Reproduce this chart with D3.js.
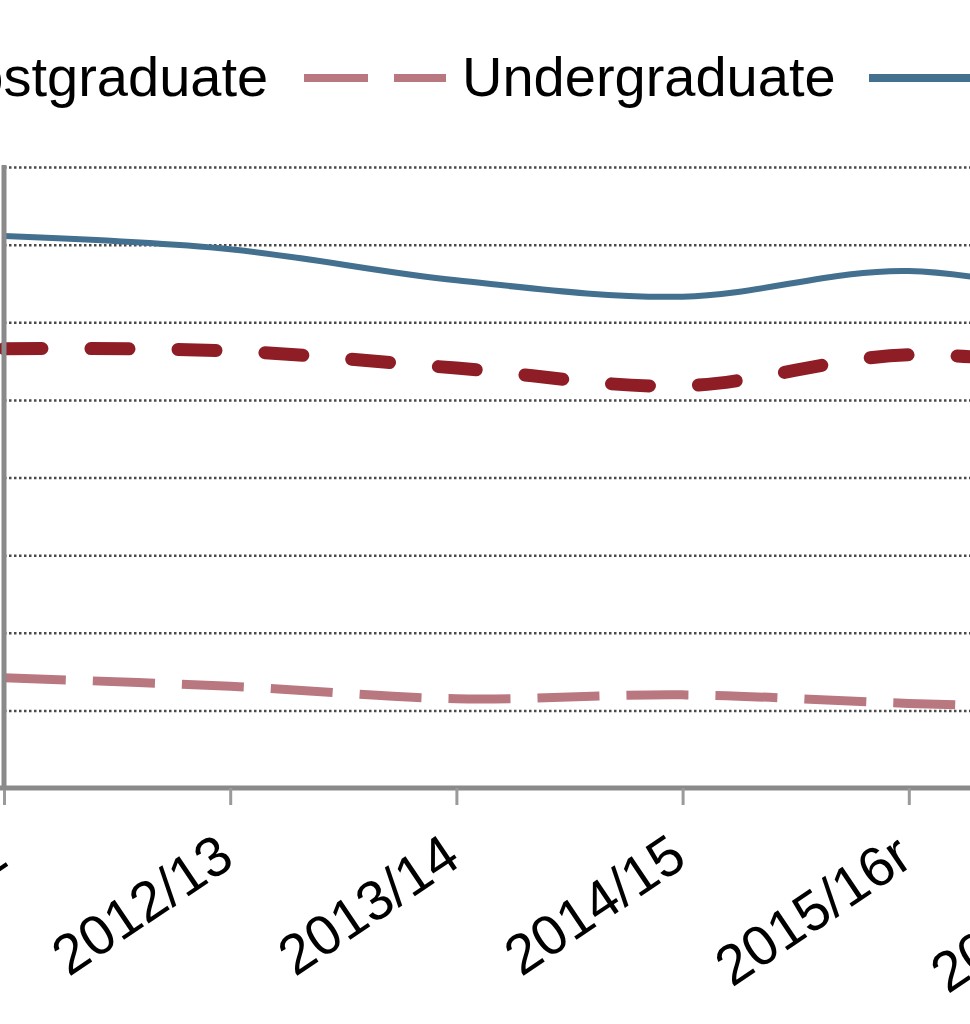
<!DOCTYPE html>
<html>
<head>
<meta charset="utf-8">
<script src="https://cdn.jsdelivr.net/npm/d3@7"></script>
<style>
  body { margin: 0; background: #fff; overflow: hidden; }
  svg { display: block; font-family: "Liberation Sans", Arial, sans-serif; }
  .grid line { stroke: #4a4a4a; stroke-width: 2.5; stroke-dasharray: 2.5,2.5; }
  .grid path { display: none; }
</style>
</head>
<body>
<svg width="970" height="1024"></svg>
<script>
// **** data ****
var years = ["2011/12", "2012/13", "2013/14", "2014/15", "2015/16r", "2016/17p"];
var allStudents   = [71.1, 69.4, 65.4, 63.3, 66.6, 62.0];
var postgraduate  = [56.6, 56.3, 54.1, 51.8, 55.8, 53.2];
var undergraduate = [14.2, 13.1, 11.5, 12.0, 10.9, 10.2];
var yTicks = [0, 10, 20, 30, 40, 50, 60, 70, 80];

var svg = d3.select("svg");
svg.append("rect").attr("width", 970).attr("height", 1024).attr("fill", "#fff");

// **** scales ****
var xScale = d3.scalePoint().domain(years).range([4, 1135]);
var yScale = d3.scaleLinear().domain([0, 80]).range([788, 167]);

// gridlines
svg.append("g").attr("class", "grid")
    .attr("transform", "translate(4,0)")
    .call(d3.axisRight(yScale).tickValues(yTicks.slice(1)).tickSize(1000).tickFormat(""));

// **** lines ****
var line = d3.line()
    .x(function(d, i) { return xScale(years[i]); })
    .y(function(d) { return yScale(d); })
    .curve(d3.curveCatmullRom.alpha(0.5));

svg.append("path").datum(undergraduate)
    .attr("d", line)
    .attr("fill", "none")
    .attr("stroke", "#b97880")
    .attr("stroke-width", 9)
    .attr("stroke-dasharray", "62,27");

svg.append("path").datum(postgraduate)
    .attr("d", line)
    .attr("fill", "none")
    .attr("stroke", "#8e1d25")
    .attr("stroke-width", 13)
    .attr("stroke-linecap", "round")
    .attr("stroke-dasharray", "38,49");

svg.append("path").datum(allStudents)
    .attr("d", line)
    .attr("fill", "none")
    .attr("stroke", "#44708f")
    .attr("stroke-width", 6);

// **** axes ****
var xAxis = svg.append("g")
    .attr("transform", "translate(0,788)")
    .call(d3.axisBottom(xScale).tickSize(17).tickSizeOuter(0));
xAxis.select(".domain").attr("stroke", "#8a8a8a").attr("stroke-width", 5)
    .attr("d", "M-10,0H1200");
xAxis.selectAll(".tick line").attr("stroke", "#9a9a9a").attr("stroke-width", 3);
xAxis.selectAll(".tick text")
    .attr("font-size", 56)
    .attr("font-family", "Liberation Sans, Arial, sans-serif")
    .attr("fill", "#000")
    .attr("text-anchor", "end")
    .attr("dy", 0)
    .attr("y", 0)
    .attr("transform", "translate(6,76) rotate(-34)");

svg.append("line")
    .attr("x1", 4).attr("x2", 4)
    .attr("y1", 165).attr("y2", 790)
    .attr("stroke", "#8a8a8a").attr("stroke-width", 5);

// **** legend ****
var legend = svg.append("g").attr("font-size", 56).attr("fill", "#000");
legend.append("line").attr("x1", -190).attr("x2", -90).attr("y1", 78).attr("y2", 78)
    .attr("stroke", "#8e1d25").attr("stroke-width", 9).attr("stroke-dasharray", "40,30");
legend.append("text").attr("x", -65).attr("y", 96).text("Postgraduate");
legend.append("line").attr("x1", 304).attr("x2", 446).attr("y1", 78).attr("y2", 78)
    .attr("stroke", "#b97880").attr("stroke-width", 8).attr("stroke-dasharray", "64,26");
legend.append("text").attr("x", 462).attr("y", 96).text("Undergraduate");
legend.append("line").attr("x1", 869).attr("x2", 1010).attr("y1", 78).attr("y2", 78)
    .attr("stroke", "#44708f").attr("stroke-width", 8);
legend.append("text").attr("x", 1027).attr("y", 96).text("All students");
</script>
</body>
</html>
